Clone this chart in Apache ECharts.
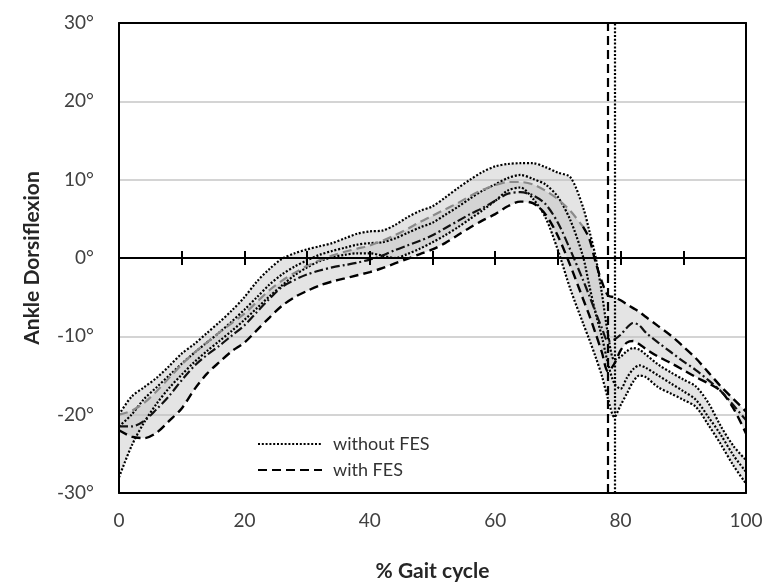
<!DOCTYPE html>
<html><head><meta charset="utf-8">
<script src="https://cdn.jsdelivr.net/npm/echarts@6/dist/echarts.min.js"></script>
<style>html,body{margin:0;padding:0;background:#fff}#c{width:770px;height:587px}</style>
</head><body><div id="c"></div>
<script>
// % gait cycle sample positions
const gaitPct = [0,2,4,6,8,10,12,14,16,18,20,22,24,26,28,30,32,34,36,38,40,42,44,46,48,50,52,54,56,58,60,62,64,66,68,70,72,74,75,76,77,78,79,80,81,82,83,84,86,88,90,92,94,96,98,100];

// without FES (dotted) : upper, middle, lower curves
const noFesUpper = [-20,-17.7,-16.5,-15.3,-13.8,-12.2,-11,-9.6,-8.2,-6.7,-5,-3,-1.4,-0.1,0.6,1.1,1.5,1.9,2.5,3.1,3.4,3.5,4.2,5.2,6,6.6,7.7,8.9,10,11,11.7,12,12.1,12.1,11.6,10.9,10.3,6.5,3.5,0.2,-4.4,-9.8,-13,-12.6,-11.9,-11.5,-11.7,-12.3,-13.6,-14.6,-15.5,-16.4,-18.5,-21.5,-24,-25.8];
const noFesMean  = [-21.5,-20,-18,-16.5,-15,-13.5,-12.1,-10.8,-9.5,-8.1,-6.6,-5,-3.4,-2.1,-1.1,-0.3,0.4,0.9,1.3,1.7,1.9,2,2.5,3.2,3.9,4.5,5.5,6.5,7.6,8.6,9.4,10.2,10.6,10.1,9.4,7.8,4.8,0.2,-3.5,-7,-10,-13.5,-16,-16.7,-15.3,-14.2,-13.7,-14,-15,-16,-17,-18.1,-20.3,-22.6,-25.2,-27.3];
const noFesLower = [-28,-24,-21,-18.6,-16.6,-14.9,-13.3,-11.9,-10.6,-9.3,-7.9,-6.4,-4.9,-3.5,-2.2,-1.2,-0.4,0.1,0.4,0.6,0.6,0.3,0,0.5,1.2,2,2.9,3.9,5,6.1,7.3,8.6,9,7.6,5.2,1,-4,-8.3,-10.4,-12.6,-15,-18,-20.3,-18.8,-17.3,-15.8,-15,-15.2,-16.5,-17.3,-18.1,-19,-21.3,-23.8,-26.5,-28.8];

// with FES (dashed) : upper, mean, lower curves
const fesUpper = [-20,-19.5,-18.5,-17,-15.3,-13.6,-12.1,-10.8,-9.5,-8.3,-7.1,-5.6,-4.1,-2.9,-1.9,-1,-0.3,0.3,0.8,1.2,1.6,2.2,2.9,3.7,4.6,5.4,6.2,7,7.9,8.7,9.3,9.7,9.7,9.4,8.6,7.5,6,4,2.5,-0.5,-3,-4.8,-5,-5.4,-5.9,-6.4,-6.9,-7.5,-8.7,-9.9,-11.3,-12.8,-14.6,-16.4,-18,-19.6];
const fesMean  = [-21.5,-21.5,-20.8,-19.3,-17.6,-15.6,-13.8,-12.4,-11.2,-9.9,-8.6,-6.9,-5.2,-3.7,-2.8,-2.1,-1.6,-1.2,-0.9,-0.6,-0.2,0.3,1,1.6,2.2,2.9,3.8,4.7,5.6,6.4,7.3,8.2,8.4,8,6.9,4.5,1,-2.8,-4.8,-6.9,-8.9,-10.6,-10.4,-9.8,-8.9,-8.3,-8.6,-9.5,-10.8,-12,-13.2,-14.3,-15.6,-17,-18.8,-20.7];
const fesLower = [-22,-22.8,-23,-22.3,-20.8,-19.2,-16.8,-14.8,-13.3,-11.9,-10.8,-9.2,-7.6,-6.1,-5,-4.2,-3.5,-3,-2.6,-2.2,-1.8,-1.3,-0.7,-0.1,0.5,1.1,1.9,2.9,3.9,4.8,5.6,6.6,7.2,7,5.6,2.8,-1,-5.2,-7.3,-9.6,-12,-14.5,-13.5,-11.8,-10.8,-10.6,-11,-11.6,-12.6,-13.4,-14.3,-15.2,-16,-17,-19.2,-22.4];

// toe-off markers (% gait cycle)
const toeOffWithFES = 78;
const toeOffWithoutFES = 79;
// the FES upper curve is drawn grey during stance, black from here on
const fesUpperBlackFrom = 74;

const FONT = 'Lato, "Open Sans", sans-serif';
const DOT = [2, 1.8];
const DASH = [9, 5];

function pairs(ys){ return gaitPct.map((x,i)=>[x, ys[i]]); }
function band(upper, lower, fill){
  return {
    type:'custom', name:'band', z:1, silent:true,
    xAxisIndex:0, yAxisIndex:0,
    data:[[0,0]],
    encode:{x:0,y:1},
    renderItem:function(params, api){
      const pts=[];
      for(let i=0;i<gaitPct.length;i++) pts.push(api.coord([gaitPct[i], upper[i]]));
      for(let i=gaitPct.length-1;i>=0;i--) pts.push(api.coord([gaitPct[i], lower[i]]));
      return {type:'polygon', shape:{points:pts}, style:{fill:fill}};
    }
  };
}
function line(name, data, color, type, width){
  return {type:'line', name:name, data:data, showSymbol:false, symbol:'none', smooth:0.3,
    xAxisIndex:0, yAxisIndex:0, z:2, silent:true,
    lineStyle:{color:color, type:type, width:width}, itemStyle:{color:color, opacity:0}};
}

const chart = echarts.init(document.getElementById('c'), null, {renderer:'canvas'});
const sFesLow = line('with FES', pairs(fesLower), '#000', DASH, 2.4);
sFesLow.markLine = {silent:true, symbol:'none', label:{show:false},
  lineStyle:{color:'#000', type:[9,5], width:2.2}, data:[{xAxis:toeOffWithFES}]};
const sNoTop = line('without FES', pairs(noFesUpper), '#000', DOT, 2.2);
sNoTop.markLine = {silent:true, symbol:'none', label:{show:false},
  lineStyle:{color:'#000', type:[2,1.8], width:2.2}, data:[{xAxis:toeOffWithoutFES}]};

const fesUpPairs = pairs(fesUpper);

const option = {
  animation:false,
  backgroundColor:'#fff',
  textStyle:{fontFamily:FONT},
  grid:{left:119, right:24, top:23, bottom:94, containLabel:false},
  legend:{
    data:['without FES','with FES'], orient:'vertical', left:252, top:430,
    itemWidth:64, itemHeight:14, itemGap:8, selectedMode:false,
    itemStyle:{opacity:0},
    textStyle:{fontFamily:FONT, fontSize:18, color:'#333', padding:[0,0,0,6]}
  },
  xAxis:[
    {type:'value', min:0, max:100, interval:20, position:'bottom', z:5,
     axisLine:{onZero:false, show:true, lineStyle:{color:'#000', width:2}},
     axisTick:{show:false}, splitLine:{show:false},
     axisLabel:{fontFamily:FONT, fontSize:19, color:'#404040', margin:18},
     name:'% Gait cycle', nameLocation:'middle', nameGap:68,
     nameTextStyle:{fontFamily:FONT, fontSize:21, fontWeight:'bold', color:'#262626'}},
    {type:'value', min:0, max:100, interval:10, position:'bottom', z:5,
     axisLine:{onZero:true, show:true, lineStyle:{color:'#000', width:2}},
     axisTick:{show:true, inside:true, length:7, lineStyle:{color:'#000', width:2}},
     axisLabel:{show:false}, splitLine:{show:false}},
    {type:'value', min:0, max:100, interval:10, position:'bottom', z:5,
     axisLine:{onZero:true, show:false},
     axisTick:{show:true, inside:false, length:7, lineStyle:{color:'#000', width:2}},
     axisLabel:{show:false}, splitLine:{show:false}},
    {type:'value', min:0, max:100, position:'top', z:5,
     axisLine:{onZero:false, show:true, lineStyle:{color:'#000', width:2}},
     axisTick:{show:false}, axisLabel:{show:false}, splitLine:{show:false}}
  ],
  yAxis:[
    {type:'value', min:-30, max:30, interval:10, position:'left', z:5,
     axisLine:{show:true, onZero:false, lineStyle:{color:'#000', width:2}},
     axisTick:{show:false}, splitLine:{show:false},
     axisLabel:{formatter:'{value}°', fontFamily:FONT, fontSize:19, color:'#404040', margin:25},
     name:'Ankle Dorsiflexion', nameLocation:'middle', nameGap:76,
     nameTextStyle:{fontFamily:FONT, fontSize:21, fontWeight:'bold', color:'#262626'}},
    {type:'value', min:-30, max:30, interval:10, position:'left', z:0,
     axisLine:{show:false}, axisTick:{show:false}, axisLabel:{show:false},
     splitLine:{show:true, lineStyle:{color:'#d4d4d4', width:2}}},
    {type:'value', min:-30, max:30, interval:10, position:'right', z:5,
     axisLine:{show:true, onZero:false, lineStyle:{color:'#000', width:2}},
     axisTick:{show:false}, axisLabel:{show:false}, splitLine:{show:false}}
  ],
  series:[
    band(noFesUpper, noFesLower, 'rgba(190,190,190,0.42)'),
    band(fesUpper, fesLower, 'rgba(190,190,190,0.42)'),
    sNoTop,
    line('without FES', pairs(noFesMean), '#000', DOT, 2.2),
    line('without FES', pairs(noFesLower), '#000', DOT, 2.2),
    sFesLow,
    line('with FES', pairs(fesMean), '#111', [9,3,2,3], 2.2),
    line('with FES', fesUpPairs.filter(p=>p[0] <= fesUpperBlackFrom), '#8a8a8a', DASH, 2.2),
    line('with FES', fesUpPairs.filter(p=>p[0] >= fesUpperBlackFrom), '#000', DASH, 2.4)
  ]
};
chart.setOption(option);
</script>
</body></html>
